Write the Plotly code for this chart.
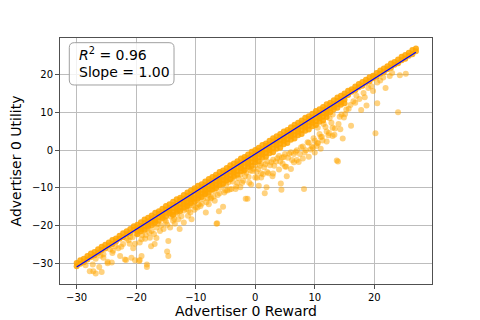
import numpy as np
import plotly.graph_objects as go

# ---- data ----
band_x = [-30.0,-29.4,-28.8,-28.2,-27.6,-27.0,-26.4,-25.8,-25.2,-24.6,-24.0,-23.4,-22.8,-22.2,-21.6,-21.0,-20.4,
          -19.8,-19.2,-18.6,-18.0,-17.4,-16.8,-16.2,-15.6,-15.0,-14.4,-13.8,-13.2,-12.6,-12.0,-11.4,-10.8,-10.2,
          -9.6,-9.0,-8.4,-7.8,-7.2,-6.6,-6.0,-5.4,-4.8,-4.2,-3.6,-3.0,-2.4,-1.8,-1.2,-0.6,0.0,0.6,1.2,1.8,2.4,
          3.0,3.6,4.2,4.8,5.4,6.0,6.6,7.2,7.8,8.4,9.0,9.6,10.2,10.8,11.4,12.0,12.6,13.2,13.8,14.4,15.0,15.6,
          16.2,16.8,17.4,18.0,18.6,19.2,19.8,20.4,21.0,21.6,22.2,22.8,23.4,24.0,24.6,25.2,25.8,26.4,27.0]
band_top = [-29.9,-29.2,-28.8,-28.1,-27.4,-27.0,-26.3,-25.6,-25.1,-24.5,-23.8,-23.4,-22.7,-22.0,-21.5,-20.9,-20.2,
            -19.8,-19.1,-18.4,-17.9,-17.3,-16.6,-16.2,-15.5,-14.8,-14.3,-13.7,-13.0,-12.6,-11.9,-11.2,-10.7,-10.1,
            -9.4,-9.0,-8.3,-7.6,-7.1,-6.5,-5.8,-5.4,-4.7,-4.0,-3.5,-2.9,-2.2,-1.8,-1.1,-0.4,0.1,0.7,1.4,1.8,2.5,
            3.2,3.7,4.3,5.0,5.4,6.1,6.8,7.3,7.9,8.6,9.0,9.7,10.4,10.9,11.5,12.2,12.6,13.3,14.0,14.5,15.1,15.8,
            16.2,16.9,17.6,18.1,18.7,19.4,19.8,20.5,21.2,21.7,22.3,23.0,23.4,24.1,24.8,25.3,25.9,26.6,27.0]
band_mid = [-30.8,-30.1,-29.7,-29.0,-28.3,-27.9,-27.2,-26.5,-26.1,-25.3,-24.9,-24.2,-23.5,-23.1,-22.3,-21.9,-21.1,
            -20.6,-20.1,-19.3,-18.9,-18.1,-17.7,-16.9,-16.5,-15.7,-15.3,-14.5,-14.1,-13.3,-12.9,-12.1,-11.7,-10.9,
            -10.5,-9.7,-9.3,-8.5,-8.1,-7.3,-6.9,-6.1,-5.7,-4.9,-4.5,-3.7,-3.3,-2.5,-2.1,-1.3,-0.9,-0.1,0.3,1.1,1.5,
            2.3,2.7,3.5,3.9,4.7,5.1,5.9,6.3,7.1,7.5,8.3,8.7,9.5,9.9,10.7,11.1,11.9,12.3,13.1,13.5,14.3,14.7,
            15.5,15.9,16.7,17.1,17.9,18.3,19.1,19.5,20.3,20.7,21.5,21.9,22.7,23.1,23.9,24.3,25.1,25.5,26.3]
inner_x = [-19.8,-19.2,-18.6,-18.0,-17.4,-16.8,-16.2,-15.6,-15.0,-14.4,-13.8,-13.2,-12.6,-12.0,-11.4,-10.8,-10.2,
           -9.6,-9.0,-8.4,-7.8,-7.2,-6.6,-6.0,-5.4,-4.8,-4.2,-3.6,-3.0,-2.4,-1.8,-1.2,-0.6,0.0,0.6,1.2,1.8,2.4,
           3.0,3.6,4.2,4.8,5.4,6.0,6.6,7.2,7.8,8.4,9.0,9.6,10.2,10.8,11.4,12.0,12.6,13.2,13.8,14.4,15.0]
inner_y = [-21.4,-20.9,-20.1,-19.7,-19.0,-18.5,-17.7,-17.3,-16.6,-16.1,-15.3,-14.9,-14.2,-13.7,-12.9,-12.5,-11.8,
           -11.3,-10.5,-10.1,-9.4,-8.9,-8.1,-7.7,-7.0,-6.5,-5.7,-5.3,-4.6,-4.1,-3.3,-2.9,-2.2,-1.7,-0.9,-0.5,0.2,0.7,
           1.5,1.9,2.6,3.1,3.9,4.3,5.0,5.5,6.3,6.7,7.4,7.9,8.7,9.1,9.8,10.3,11.1,11.5,12.2,12.7,13.5]
inner2_y = [-22.3,-21.5,-21.1,-20.3,-19.9,-19.1,-18.7,-17.9,-17.5,-16.7,-16.3,-15.5,-15.1,-14.3,-13.9,-13.1,-12.7,
            -11.9,-11.5,-10.7,-10.3,-9.5,-9.1,-8.3,-7.9,-7.1,-6.7,-5.9,-5.5,-4.7,-4.3,-3.5,-3.1,-2.3,-1.9,-1.1,-0.7,
            0.1,0.5,1.3,1.7,2.5,2.9,3.7,4.1,4.9,5.3,6.1,6.5,7.3,7.7,8.5,8.9,9.7,10.1,10.9,11.3,12.1,12.5]
deep_x = [-13.8,-13.2,-12.6,-12.0,-11.4,-10.8,-10.2,-9.6,-9.0,-8.4,-7.8,-7.2,-6.6,-6.0,-5.4,-4.8,-4.2,-3.6,-3.0,
          -2.4,-1.8,-1.2,-0.6,0.0,0.6,1.2,1.8,2.4,3.0,3.6,4.2,4.8,5.4,6.0,6.6,7.2,7.8,8.4,9.0,9.6,10.2,10.8,11.4,12.0]
deep_y = [-17.2,-16.3,-16.1,-15.2,-14.8,-14.0,-13.7,-12.8,-12.4,-11.6,-11.3,-10.4,-10.1,-9.2,-8.9,-8.0,-7.7,-6.8,-6.5,
          -5.6,-5.3,-4.4,-4.1,-3.2,-2.9,-2.0,-1.7,-0.8,-0.5,0.4,0.7,1.6,1.9,2.8,3.1,4.0,4.3,5.2,5.5,6.4,6.7,7.6,7.9,8.8]

scat_x = [-27.8,-27.2,-26.8,-25.8,-27.3,-26.2,-25.5,-24.8,-24.1,-24.4,-23.9,-23.0,-22.7,-21.9,-20.8,-22.2,-21.1,
          -21.6,-20.2,-19.4,-19.1,-19.4,-18.2,-18.2,-18.4,-17.7,-16.9,-16.6,-16.0,-15.4,-14.6,-14.8,-14.3,-13.8,
          -12.9,-12.7,-16.6,-17.4,-18.3,-19.1,-14.6,-28.5,-26.0,-23.5,-21.0,-20.0,-18.0,-17.0,-15.5,-14.0,-13.0,
          -12.5,-11.5,-15.0,-13.5,-17.5,-20.5,-24.8,-21.7,-20.2,-19.5,
          -6.4,-5.4,-6.1,-10.9,-10.7,-11.3,-12.0,-9.7,-8.3,-7.8,-6.8,-4.7,-3.3,-1.6,-1.3,1.6,4.4,8.2,4.3,2.9,5.3,
          6.5,4.6,1.9,1.0,0.3,-0.8,0.6,-8.6,-9.5,-7.5,-11.4,-6.5,
          -11.0,-10.5,-10.0,-9.5,-9.0,-8.5,-8.0,-7.5,-7.0,-6.5,-6.0,-5.5,-5.0,-5.0,-4.5,-4.0,-4.0,-3.5,-3.0,-2.5,
          -2.5,-2.0,-2.0,-1.5,-1.0,-1.0,-0.5,0.0,0.0,0.5,1.0,1.0,1.5,2.0,2.0,2.5,3.0,3.0,3.5,4.0,4.0,4.5,5.0,5.0,
          5.5,6.0,6.0,6.5,7.0,7.0,7.5,8.0,8.0,8.5,9.0,9.0,9.5,10.0,10.0,10.5,11.0,11.0,12.0,12.0,13.0,13.0,14.0,
          20.2,24.0,21.9,20.5,25.3,24.3,22.6,19.8,18.4,17.8,18.7,13.9,14.7,14.3,13.3,12.3,11.2,10.5,9.7,16.1,15.1,
          14.9,14.2,15.7,13.7,16.5,17.0,19.0,21.0,23.0,12.5,11.5,10.5,13.0,16.0,
          -19.0,-18.5,-17.8,-17.0,-16.4,-15.8,-15.2,-14.8,-14.2,-13.6,-13.1,-12.4,-12.0,-11.6,-11.2,-10.6,-10.2,
          -9.8,-9.2,-8.8,-8.2,-7.9,-7.4,-6.9,-6.3,-5.8,-5.2,-4.9,-4.3,-3.8,-3.2,-2.8,-2.2,-1.7,-1.1,-0.7,-0.3,
          0.2,0.8,1.3,1.7,2.2,2.7,3.2,3.7,4.2,4.8,5.2,5.7,6.2,6.8,7.3,7.7,8.3,8.8,9.3,9.8,10.3,10.8,11.3,11.8,
          12.4,12.8,13.4,14.5,15.3,16.8,17.5,18.2,19.5,20.5,21.5,-24.0,-22.5,-21.3,-20.6,-25.5,-26.8]
scat_y = [-32.1,-32.1,-32.7,-32.3,-30.3,-31.0,-28.5,-30.0,-29.8,-26.3,-26.7,-26.0,-28.1,-29.0,-28.5,-24.9,-24.8,
          -23.4,-24.8,-24.5,-28.1,-29.1,-30.3,-31.0,-22.5,-23.2,-24.9,-23.3,-21.4,-20.9,-24.1,-26.9,-20.5,-18.7,
          -18.3,-20.9,-20.5,-21.4,-20.9,-23.6,-28.1,-30.5,-28.0,-25.5,-23.0,-22.0,-20.0,-19.5,-18.0,-17.0,-16.0,
          -15.5,-14.5,-19.0,-19.5,-25.5,-26.0,-29.6,-29.1,-29.2,-29.4,
          -19.4,-15.0,-16.2,-16.5,-18.3,-17.4,-19.2,-15.2,-16.5,-14.3,-13.4,-10.7,-10.3,-12.9,-12.9,-11.4,-10.5,
          -10.3,-8.8,-6.9,-6.9,-3.2,-3.6,-9.8,-7.2,-7.3,-5.4,-9.4,-11.6,-14.3,-12.9,-13.4,-19.5,
          -14.6,-13.0,-15.1,-12.5,-14.2,-11.5,-12.8,-10.5,-12.3,-9.5,-11.4,-9.0,-8.0,-10.7,-8.5,-7.5,-10.3,-7.0,-8.7,
          -6.5,-9.8,-5.5,-8.1,-6.0,-4.5,-8.6,-5.5,-4.0,-7.2,-5.0,-3.5,-6.1,-4.5,-3.0,-5.8,-4.0,-2.5,-6.2,-3.0,
          -1.5,-5.1,-2.0,-1.0,-4.3,-2.0,-0.5,-5.0,-1.0,0.0,-2.6,-1.0,1.0,-2.2,0.0,2.0,-1.7,1.0,2.5,-0.6,2.0,3.5,0.4,
          5.0,2.3,6.0,3.8,7.0,
          4.5,10.1,16.5,12.5,20.3,19.9,19.7,15.7,14.1,10.7,11.9,-3.0,3.1,5.6,4.1,4.0,3.6,1.8,0.7,6.5,9.6,8.7,8.9,
          11.0,-2.7,13.0,14.5,16.5,18.5,20.5,8.5,7.0,6.0,9.5,12.0,
          -22.5,-23.5,-21.8,-22.2,-19.6,-20.0,-18.5,-19.8,-17.6,-18.2,-16.8,-17.5,-16.0,-15.6,-15.9,-14.6,-15.8,
          -13.2,-14.8,-12.9,-13.8,-11.8,-12.6,-10.8,-11.9,-9.9,-11.2,-9.2,-10.4,-8.3,-9.6,-7.4,-8.6,-6.8,-7.1,-9.1,
          -4.9,-5.8,-4.1,-6.4,-3.7,-6.1,-3.2,-4.1,-2.1,-3.0,-1.8,-4.4,-0.9,-2.6,-0.4,-3.1,0.8,-0.6,2.1,0.2,3.2,1.1,
          4.3,2.6,6.2,4.6,7.3,5.8,9.5,10.8,12.6,13.6,15.2,17.0,18.0,19.3,-27.3,-25.6,-23.9,-23.1,-27.6,-28.8]

r_squared = 0.96
fit_slope = 1.00
fit_intercept = -1.0

orange = "#FFA500"
fig = go.Figure()
fig.add_trace(go.Scatter(x=scat_x, y=scat_y, mode="markers",
                         marker=dict(color=orange, size=6, opacity=0.5, line=dict(width=0)), showlegend=False))
all_band_x = band_x + band_x + inner_x + inner_x + deep_x
all_band_y = band_top + band_mid + inner_y + inner2_y + deep_y
fig.add_trace(go.Scatter(x=all_band_x, y=all_band_y, mode="markers",
                         marker=dict(color=orange, size=6, opacity=0.85, line=dict(width=0)), showlegend=False))

xs = np.array(band_x + scat_x)
lx = np.array([xs.min(), xs.max()])
fig.add_trace(go.Scatter(x=lx, y=fit_slope * lx + fit_intercept, mode="lines",
                         line=dict(color="#0000ff", width=1.2), showlegend=False))

axis_common = dict(showgrid=True, gridcolor="#bdbdbd", gridwidth=1, zeroline=False, automargin=False,
                   showline=True, linecolor="#505050", linewidth=1, mirror=True,
                   ticks="outside", ticklen=4, tickcolor="#505050", tickwidth=1,
                   tickfont=dict(size=10, color="black"), dtick=10)
fig.update_xaxes(range=[-32.8, 29.7], tick0=-30,
                 title=dict(text="Advertiser 0 Reward", font=dict(size=14, color="black"), standoff=4),
                 **axis_common)
fig.update_yaxes(range=[-35.5, 29.8], tick0=-30,
                 title=dict(text="Advertiser 0 Utility", font=dict(size=14, color="black"), standoff=6),
                 **axis_common)

# rounded box
x0, x1, y0, y1 = 0.025, 0.3065, 0.809, 0.981
rx, ry = 0.0134, 0.0203
path = (f"M {x0+rx},{y0} L {x1-rx},{y0} Q {x1},{y0} {x1},{y0+ry} L {x1},{y1-ry} Q {x1},{y1} {x1-rx},{y1} "
        f"L {x0+rx},{y1} Q {x0},{y1} {x0},{y1-ry} L {x0},{y0+ry} Q {x0},{y0} {x0+rx},{y0} Z")
fig.add_shape(type="path", path=path, xref="paper", yref="paper",
              line=dict(color="#a0a0a0", width=1), fillcolor="rgba(255,255,255,0.8)", layer="above")
fig.add_annotation(x=0.045, y=0.935, xref="paper", yref="paper", xanchor="left", yanchor="middle",
                   text=f"<i>R</i><sup>2</sup> = {r_squared:.2f}", showarrow=False,
                   font=dict(size=14, color="black"))
fig.add_annotation(x=0.045, y=0.862, xref="paper", yref="paper", xanchor="left", yanchor="middle",
                   text=f"Slope = {fit_slope:.2f}", showarrow=False, font=dict(size=14, color="black"))

fig.update_layout(width=480, height=320, margin=dict(l=60, r=48, t=38, b=36),
                  paper_bgcolor="white", plot_bgcolor="white",
                  font=dict(family="DejaVu Sans", color="black"))
fig.write_html("out.html", config={"displayModeBar": False},
               post_script="document.body.style.margin='0';document.body.style.overflow='hidden';")
